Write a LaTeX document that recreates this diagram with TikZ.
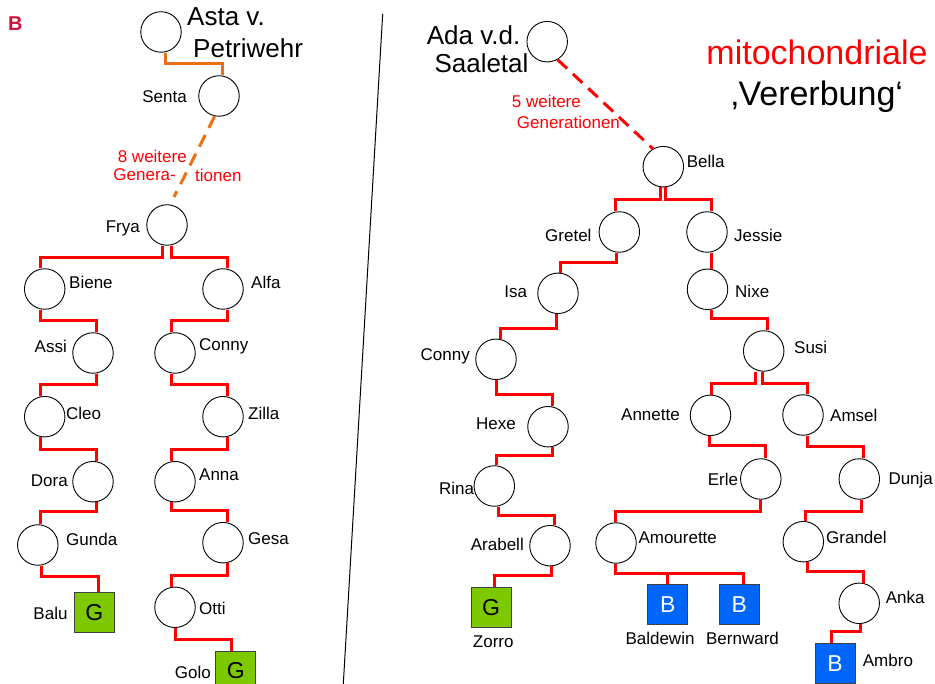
\documentclass[tikz,border=0pt]{standalone}
\usepackage{fontspec}
\setmainfont{Liberation Sans}
\newcommand\labfont{\fontsize{17}{20}\selectfont}
\newcommand\bigfont{\fontsize{26}{30}\selectfont}
\newcommand\titlefont{\fontsize{34}{40}\selectfont}
\newcommand\boxfont{\fontsize{23}{26}\selectfont}
\newcommand\markfont{\fontsize{20}{24}\selectfont\bfseries}
\definecolor{boxgreen}{RGB}{126,200,0}
\definecolor{boxblue}{RGB}{0,102,250}
\definecolor{lineorange}{RGB}{235,112,20}
\definecolor{markred}{RGB}{208,18,58}
\begin{document}
\begin{tikzpicture}[x=1pt,y=-1pt,
  person/.style={circle,draw=black,line width=0.9pt,minimum size=40.5pt,inner sep=0pt},
  son/.style={rectangle,draw=black!75,line width=1pt,minimum size=40pt,inner sep=0pt,font=\boxfont},
  gson/.style={son,fill=boxgreen,text=black},
  bson/.style={son,fill=boxblue,text=white},
  lab/.style={inner sep=0pt,font=\labfont},
  big/.style={inner sep=0pt,font=\bigfont},
  gen/.style={inner sep=0pt,font=\labfont,text=red},
  link/.style={draw=red,line width=3pt},
  olink/.style={draw=lineorange,line width=3pt},
  gapped/.style={dash pattern=on 13pt off 8pt}
]
\useasboundingbox (0,0) rectangle (935,684);
\fill[white] (0,0) rectangle (935,684);

% ---------- left pedigree ----------
\node[inner sep=0pt,font=\markfont,text=markred,anchor=west] (mark) at (8,24) {B};

\node[person] (Asta) at (161,32) {};
\node[big,anchor=west] (tAsta1) at (187,16.5) {Asta v.};
\node[big,anchor=west] (tAsta2) at (193,48) {Petriwehr};
\node[person] (Senta) at (219,96) {};
\node[lab,anchor=east] (tSenta) at (187,97) {Senta};

\node[gen,anchor=east] (tGenA) at (187,156) {8 weitere};
\node[gen,anchor=east] (tGenB) at (176,175) {Genera-};
\node[gen,anchor=west] (tGenC) at (195,175) {tionen};
\coordinate (fryaGap) at (174,197);

\node[person] (Frya) at (167,225) {};
\node[lab,anchor=east] (tFrya) at (140,228) {Frya};
\node[person] (Biene) at (44.7,289) {};
\node[lab,anchor=west] (tBiene) at (69,282) {Biene};
\node[person] (Alfa) at (223,289) {};
\node[lab,anchor=west] (tAlfa) at (251,282) {Alfa};
\node[person] (Assi) at (93,353) {};
\node[lab,anchor=east] (tAssi) at (67,346) {Assi};
\node[person] (ConnyL) at (175,353) {};
\node[lab,anchor=west] (tConnyL) at (199,346) {Conny};
\node[person] (Cleo) at (44.7,416.7) {};
\node[lab,anchor=west] (tCleo) at (66,413) {Cleo};
\node[person] (Zilla) at (223,416.7) {};
\node[lab,anchor=west] (tZilla) at (248,413) {Zilla};
\node[person] (Dora) at (93,481.7) {};
\node[lab,anchor=east] (tDora) at (68,481) {Dora};
\node[person] (Anna) at (175,481.7) {};
\node[lab,anchor=west] (tAnna) at (199,475) {Anna};
\node[person] (Gunda) at (37.8,545) {};
\node[lab,anchor=west] (tGunda) at (66,539) {Gunda};
\node[person] (Gesa) at (223,542.7) {};
\node[lab,anchor=west] (tGesa) at (248,539) {Gesa};
\node[gson] (Balu) at (94.2,612.7) {G};
\node[lab,anchor=east] (tBalu) at (67.7,613) {Balu};
\node[person] (Otti) at (175,607.3) {};
\node[lab,anchor=west] (tOtti) at (199,608) {Otti};
\node[gson] (Golo) at (235.7,671) {G};
\node[lab,anchor=east] (tGolo) at (211,672) {Golo};

\draw[olink] ([xshift=4.7pt]Asta.south) -- ++(0,10.5) -| ([xshift=3.7pt]Senta.north);
\draw[olink,gapped] (Senta.-102) -- (fryaGap);

\draw[link] ([xshift=-4.5pt]Frya.south) -- ++(0,12) -| ([xshift=-4pt]Biene.north);
\draw[link] ([xshift=4.5pt]Frya.south) -- ++(0,12) -| ([xshift=4.7pt]Alfa.north);
\draw[link] ([xshift=-4pt]Biene.south) -- ++(0,11) -| ([xshift=3.7pt]Assi.north);
\draw[link] ([xshift=4.7pt]Alfa.south) -- ++(0,11) -| ([xshift=-3.3pt]ConnyL.north);
\draw[link] ([xshift=3.7pt]Assi.south) -- ++(0,11) -| ([xshift=-4pt]Cleo.north);
\draw[link] ([xshift=-3.3pt]ConnyL.south) -- ++(0,11) -| ([xshift=4.7pt]Zilla.north);
\draw[link] ([xshift=-4pt]Cleo.south) -- ++(0,12) -| ([xshift=3.7pt]Dora.north);
\draw[link] ([xshift=4.7pt]Zilla.south) -- ++(0,12) -| ([xshift=-3.3pt]Anna.north);
\draw[link] ([xshift=3.7pt]Dora.south) -- ++(0,9.5) -| ([xshift=2.9pt]Gunda.north);
\draw[link] ([xshift=-3.3pt]Anna.south) -- ++(0,8) -| ([xshift=4.7pt]Gesa.north);
\draw[link] ([xshift=3.9pt]Gunda.south) -- ++(0,11) -| ([xshift=4.1pt]Balu.north);
\draw[link] ([xshift=4.7pt]Gesa.south) -- ++(0,12) -| ([xshift=-3.3pt]Otti.north);
\draw[link] ([xshift=0.7pt]Otti.south) -- ++(0,11.5) -| ([xshift=-4pt]Golo.north);

% ---------- separator ----------
\coordinate (sepTop) at (382.7,14);
\coordinate (sepBot) at (343.3,684);
\draw[line width=1pt] (sepTop) -- (sepBot);

% ---------- right pedigree ----------
\node[person] (Ada) at (547.2,41.7) {};
\node[big,anchor=west] (tAda1) at (426.7,35) {Ada v.d.};
\node[big,anchor=west] (tAda2) at (434.3,63.7) {Saaletal};
\node[gen,anchor=west] (tGenD) at (511.7,101.7) {5 weitere};
\node[gen,anchor=west] (tGenE) at (516.7,122.7) {Generationen};

\node[inner sep=0pt,font=\titlefont,text=red,anchor=base] (title1) at (817,65) {mitochondriale};
\node[inner sep=0pt,font=\titlefont,anchor=base] (title2) at (817,106) {‚Vererbung‘};

\node[person] (Bella) at (663.3,166.7) {};
\node[lab,anchor=west] (tBella) at (686.7,161.7) {Bella};
\node[person] (Gretel) at (619.3,232) {};
\node[lab,anchor=east] (tGretel) at (591.7,235.7) {Gretel};
\node[person] (Jessie) at (707,232) {};
\node[lab,anchor=west] (tJessie) at (734,235.7) {Jessie};
\node[person] (Isa) at (558,293.3) {};
\node[lab,anchor=east] (tIsa) at (527.3,291.7) {Isa};
\node[person] (Nixe) at (707.5,289.3) {};
\node[lab,anchor=west] (tNixe) at (735,291.7) {Nixe};
\node[person] (ConnyR) at (496,359.3) {};
\node[lab,anchor=east] (tConnyR) at (470,356) {Conny};
\node[person] (Susi) at (763.7,351) {};
\node[lab,anchor=west] (tSusi) at (794,347.7) {Susi};
\node[person] (Hexe) at (548,426.7) {};
\node[lab,anchor=east] (tHexe) at (516,423.3) {Hexe};
\node[person] (Annette) at (710.5,415.3) {};
\node[lab,anchor=east] (tAnnette) at (680,415) {Annette};
\node[person] (Amsel) at (803,415) {};
\node[lab,anchor=west] (tAmsel) at (830,415.7) {Amsel};
\node[person] (Rina) at (494.3,486) {};
\node[lab,anchor=east] (tRina) at (474.3,488) {Rina};
\node[person] (Erle) at (760.8,479) {};
\node[lab,anchor=east] (tErle) at (738.3,479.7) {Erle};
\node[person] (Dunja) at (859.3,479) {};
\node[lab,anchor=west] (tDunja) at (888.3,479.7) {Dunja};
\node[person] (Arabell) at (550,545.7) {};
\node[lab,anchor=east] (tArabell) at (524,544) {Arabell};
\node[person] (Amourette) at (616,543) {};
\node[lab,anchor=west] (tAmourette) at (638.3,537.3) {Amourette};
\node[person] (Grandel) at (803.3,541.7) {};
\node[lab,anchor=west] (tGrandel) at (826,537.3) {Grandel};
\node[gson] (Zorro) at (491,607.3) {G};
\node[lab] (tZorro) at (493.3,641.3) {Zorro};
\node[bson] (Baldewin) at (667.7,604.7) {B};
\node[lab] (tBaldewin) at (660,638.3) {Baldewin};
\node[bson] (Bernward) at (739.3,604.7) {B};
\node[lab] (tBernward) at (742.5,638.3) {Bernward};
\node[person] (Anka) at (859.2,603.3) {};
\node[lab,anchor=west] (tAnka) at (885.7,597.3) {Anka};
\node[bson] (Ambro) at (835,663.3) {B};
\node[lab,anchor=west] (tAmbro) at (862.7,660.7) {Ambro};

\draw[link,gapped] (Ada.-60) -- (Bella.120);

\draw[link] ([xshift=-3.3pt]Bella.south) -- ++(0,12) -| ([xshift=-4.3pt]Gretel.north);
\draw[link] ([xshift=2.4pt]Bella.south) -- ++(0,12) -| ([xshift=4.7pt]Jessie.north);
\draw[link] ([xshift=-2.6pt]Gretel.south) -- ++(0,10) -| ([xshift=2pt]Isa.north);
\draw[link] ([xshift=4pt]Jessie.south) -- ([xshift=3.5pt]Nixe.north);
\draw[link] ([xshift=-1.3pt]Isa.south) -- ++(0,14.5) -| ([xshift=4.7pt]ConnyR.north);
\draw[link] ([xshift=4.2pt]Nixe.south) -- ++(0,9) -| ([xshift=4pt]Susi.north);
\draw[link] ([xshift=0.7pt]ConnyR.south) -- ++(0,14.5) -| ([xshift=4.3pt]Hexe.north);
\draw[link] ([xshift=-8pt]Susi.south) -- ++(0,12) -| ([xshift=0.5pt]Annette.north);
\draw[link] ([xshift=-1.4pt]Susi.south) -- ++(0,12) -| ([xshift=4.3pt]Amsel.north);
\draw[link] ([xshift=4.3pt]Hexe.south) -- ++(0,8) -| ([xshift=2.4pt]Rina.north);
\draw[link] ([xshift=-1.5pt]Annette.south) -- ++(0,10) -| ([xshift=4.2pt]Erle.north);
\draw[link] ([xshift=4.3pt]Amsel.south) -- ++(0,10.5) -| ([xshift=4pt]Dunja.north);
\draw[link] ([xshift=4pt]Rina.south) -- ++(0,8.5) -| ([xshift=4pt]Arabell.north);
\draw[link] ([xshift=-0.8pt]Erle.south) -- ++(0,11.5) -| ([xshift=-1pt]Amourette.north);
\draw[link] ([xshift=2.4pt]Dunja.south) -- ++(0,11.8) -| ([xshift=2.4pt]Grandel.north);
\draw[link] ([xshift=1pt]Arabell.south) -- ++(0,9.5) -| ([xshift=3.3pt]Zorro.north);
\draw[link] ([xshift=-1pt]Amourette.south) -- ++(0,10) -| (Baldewin.north);
\draw[link] ([xshift=-1pt]Amourette.south) -- ++(0,10) -| ([xshift=4pt]Bernward.north);
\draw[link] ([xshift=4pt]Grandel.south) -- ++(0,9) -| ([xshift=4pt]Anka.north);
\draw[link] ([xshift=1.5pt]Anka.south) -- ++(0,7) -| ([xshift=-3.3pt]Ambro.north);
\end{tikzpicture}
\end{document}
